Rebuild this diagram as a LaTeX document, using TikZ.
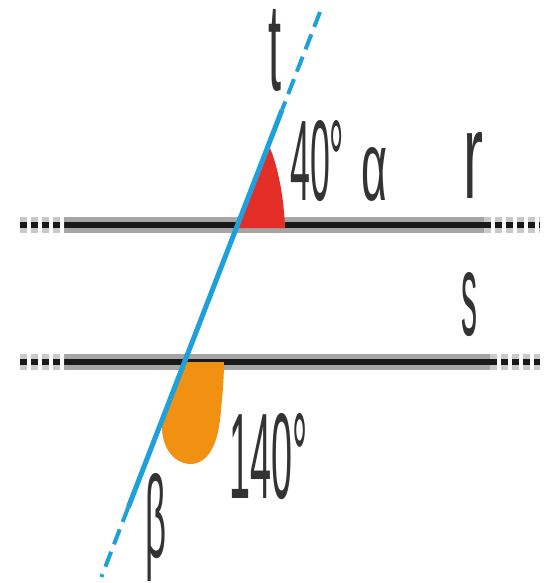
\documentclass[tikz,border=0pt]{standalone}
\usepackage{fontspec}
\setmainfont{Liberation Sans}
\usepackage{graphicx}
\definecolor{tblue}{RGB}{30,160,220}
\definecolor{ared}{RGB}{228,45,38}
\definecolor{borange}{RGB}{241,145,18}
\definecolor{bandtop}{RGB}{128,128,128}
\definecolor{bandbot}{RGB}{165,165,165}
\definecolor{core}{RGB}{25,25,25}
\begin{document}
\begin{tikzpicture}[x=1pt,y=-1pt,
  lbl/.style={anchor=north west, inner sep=0pt, text=black!80},
  bandbase/.style={draw=bandbot, line width=16pt},
  bandtopst/.style={draw=bandtop, line width=5pt, yshift=5.5pt},
  bandcore/.style={draw=core, line width=6pt},
  dotpat/.style={dash pattern=on 7pt off 4pt},
  transv/.style={draw=tblue, line width=5pt},
  transvd/.style={draw=tblue, line width=4pt, dash pattern=on 16pt off 8pt}]
\useasboundingbox (0,0) rectangle (544,583);
\fill[white] (0,0) rectangle (544,583);

% parallel lines r and s
\coordinate (rLd) at (20,225);  \coordinate (rL) at (64,225);
\coordinate (rR) at (484,225);  \coordinate (rRd) at (540,225);
\coordinate (sLd) at (20,362);  \coordinate (sL) at (64,362);
\coordinate (sR) at (490,362);  \coordinate (sRd) at (540,362);

\foreach \a/\b in {rL/rR, sL/sR} {
  \path[bandbase] (\a) -- (\b);
  \path[bandtopst] (\a) -- (\b);
  \path[bandcore] (\a) -- (\b);
}
\foreach \a/\b in {rLd/rL, rR/rRd, sLd/sL, sR/sRd} {
  \path[bandbase, dotpat, draw=bandbot!60] (\a) -- (\b);
  \path[bandcore, dotpat] (\a) -- (\b);
}

% angle fills (multiplied over the lines)
\begin{scope}[blend group=multiply]
  \fill[ared] (237.6,228) -- (270,148) .. controls (279,170) and (284,200) .. (285,228) -- cycle;
  \fill[borange] (184.5,362) -- (162,420) .. controls (160,445) and (172,463) .. (190,464)
     .. controls (208,464) and (217,445) .. (220,420) .. controls (222,400) and (224,380) .. (224,362) -- cycle;
\end{scope}

% transversal t
\coordinate (T1) at (320,12);
\coordinate (T2) at (282,110);
\coordinate (T3) at (128.4,507);
\coordinate (T4) at (101.4,577);
\path[transvd] (T1) -- (T2);
\path[transv] (T2) -- (T3);
\path[transvd] (T3) -- (T4);

% labels
\node[lbl] (lt) at (268,9) {\resizebox{13pt}{81pt}{t}};
\node[lbl] (l40) at (290,120) {\resizebox{54pt}{80pt}{40°}};
\node[lbl] (la) at (361,147) {\resizebox{26pt}{53pt}{α}};
\node[lbl] (lr) at (463,132) {\resizebox{20pt}{66pt}{r}};
\node[lbl] (ls) at (461,272) {\resizebox{16pt}{63pt}{s}};
\node[lbl] (l140) at (229,413) {\resizebox{78pt}{85pt}{140°}};
\node[lbl] (lb) at (145,473) {\resizebox{21pt}{84pt}{β}};
\end{tikzpicture}
\end{document}
